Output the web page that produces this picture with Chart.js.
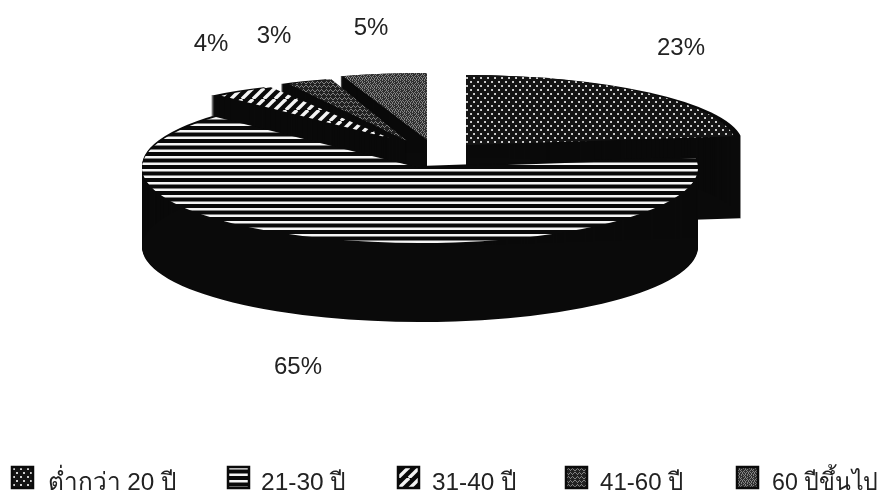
<!DOCTYPE html>
<html>
<head>
<meta charset="utf-8">
<script src="https://cdn.jsdelivr.net/npm/chart.js@4/dist/chart.umd.min.js"></script>
<style>
  html, body { margin: 0; padding: 0; background: #fff; }
  canvas { display: block; filter: blur(0.4px); }
</style>
</head>
<body>
<canvas id="pieChart" width="883" height="494"></canvas>
<script>
const categories = ['ต่ำกว่า 20 ปี', '21-30 ปี', '31-40 ปี', '41-60 ปี', '60 ปีขึ้นไป'];
const shares = [23, 65, 4, 3, 5];

// small bitmaps for the scanned fill patterns (# = dark, . = light, + = half)
const dotTile = ['#######', '#..####', '#..####', '#######', '#######', '####..#', '####..#', '#######'];
const stripeTile = ['.', '.', '+', '#', '#', '#', '+', '.', '.', '#', '#', '#', '#'];
const weaveTile = ['#########', '##.###.##', '#.#.#.#.#', '.###.###.', '#########', '.###.###.', '#.#.#.#.#', '##.###.##'];
const speckleTile = ['#.##.#', '.#.###', '##.#.#', '#.#.##', '.###.#', '#.#.#.', '##.##.', '.#.#.#'];

function bitmapPattern(rows, dark, light, half) {
    const c = document.createElement('canvas');
    c.width = rows[0].length;
    c.height = rows.length;
    const g = c.getContext('2d');
    rows.forEach((row, y) => {
        for (let x = 0; x < row.length; x++) {
            g.fillStyle = row[x] === '#' ? dark : row[x] === '+' ? half : light;
            g.fillRect(x, y, 1, 1);
        }
    });
    return g.createPattern(c, 'repeat');
}

function diagonalPattern() {
    const c = document.createElement('canvas');
    c.width = 11;
    c.height = 11;
    const g = c.getContext('2d');
    g.fillStyle = '#0a0a0a';
    g.fillRect(0, 0, 11, 11);
    g.strokeStyle = '#f4f4f4';
    g.lineWidth = 3.4;
    [-11, 0, 11].forEach(k => {
        g.beginPath();
        g.moveTo(k, 11);
        g.lineTo(k + 11, 0);
        g.stroke();
    });
    return g.createPattern(c, 'repeat');
}

function makeFills() {
    return [
        bitmapPattern(dotTile, '#141414', '#cfcfcf'),
        bitmapPattern(stripeTile, '#0a0a0a', '#f6f6f6', '#808080'),
        diagonalPattern(),
        bitmapPattern(weaveTile, '#222222', '#808080'),
        bitmapPattern(speckleTile, '#303030', '#848484')
    ];
}

// where each slice sits on the page: apex, ellipse radii, black wall below it
const sliceBoxes = [
    { ax: 466, ay: 145, rx: 270, ry: 70, wallRx: 277, wallTop: 0, wallDrop: 82 },
    { ax: 420, ay: 168, rx: 278, ry: 75, wallRx: 278, wallTop: -2, wallDrop: 81 },
    { ax: 389, ay: 138, rx: 245, ry: 58, wallRx: 260, wallTop: 0, wallDrop: 79 },
    { ax: 407, ay: 141, rx: 245, ry: 65, wallRx: 262, wallTop: 0, wallDrop: 79 },
    { ax: 427, ay: 140, rx: 272, ry: 67, wallRx: 280, wallTop: 0, wallDrop: 79 }
];
const drawOrder = [4, 3, 2, 0, 1];
const wallColor = '#0a0a0a';
const mainSlice = 1;
const mainCutSlope = 0.25; // the scan's big slice stops a little lower than a true ellipse

const percentSpots = [[681, 48], [298, 367], [211, 44], [274, 36], [371, 28]];
const legendIconX = [12, 228, 398, 566, 737];
const legendTextX = [48, 261, 432, 600, 772];
const legendTextW = [129, 86, 85, 84, 106];
const legendY = 467;
const iconSize = 21;

const fauxPie = {
    id: 'fauxPie',
    beforeDatasetsDraw(chart) {
        const ctx = chart.ctx;
        const arcs = chart.getDatasetMeta(0).data;
        drawOrder.forEach(i => {
            const arc = arcs[i];
            const box = sliceBoxes[i];
            const sy = box.ry / arc.outerRadius;
            const face = arc.options;

            const place = (rx, dy) => {
                const sx = rx / arc.outerRadius;
                ctx.save();
                ctx.translate(box.ax, box.ay + dy);
                ctx.scale(sx, sy);
                ctx.translate(-arc.x, -arc.y);
                arc.draw(ctx);
                ctx.restore();
            };

            ctx.save();
            if (i === mainSlice) {
                ctx.beginPath();
                ctx.moveTo(box.ax, box.ay);
                ctx.lineTo(0, box.ay - box.ax * mainCutSlope);
                ctx.lineTo(0, chart.height);
                ctx.lineTo(chart.width, chart.height);
                ctx.lineTo(chart.width, 0);
                ctx.lineTo(box.ax, 0);
                ctx.closePath();
                ctx.clip();
            }

            arc.options = Object.assign({}, face, { backgroundColor: wallColor, borderWidth: 0 });
            for (let d = box.wallTop; d <= box.wallTop + box.wallDrop; d++) {
                place(box.wallRx, d);
            }

            // anchor the pattern to the page so it is not squashed with the slice
            const sx = box.rx / arc.outerRadius;
            const ox = box.ax - arc.x * sx;
            const oy = box.ay - arc.y * sy;
            face.backgroundColor.setTransform(new DOMMatrix().scale(1 / sx, 1 / sy).translate(-ox, -oy));
            arc.options = face;
            place(box.rx, 0);
            ctx.restore();
        });
        return false;
    },
    afterDraw(chart) {
        const ctx = chart.ctx;
        const fills = makeFills();
        ctx.save();
        ctx.fillStyle = '#222';

        ctx.font = '24px "Liberation Sans", "Noto Sans", sans-serif';
        ctx.textAlign = 'center';
        ctx.textBaseline = 'middle';
        shares.forEach((v, i) => {
            ctx.fillText(v + '%', percentSpots[i][0], percentSpots[i][1]);
        });

        ctx.font = '24.5px "Liberation Sans", "Noto Sans", sans-serif';
        ctx.textAlign = 'left';
        ctx.textBaseline = 'alphabetic';
        categories.forEach((name, i) => {
            ctx.save();
            ctx.translate(legendIconX[i], legendY);
            ctx.fillStyle = fills[i];
            ctx.fillRect(0, 0, iconSize, iconSize);
            ctx.strokeStyle = '#0a0a0a';
            ctx.lineWidth = 2.5;
            ctx.strokeRect(0, 0, iconSize, iconSize);
            ctx.restore();
            ctx.fillText(name, legendTextX[i], legendY + 23, legendTextW[i]);
        });
        ctx.restore();
    }
};

new Chart(document.getElementById('pieChart').getContext('2d'), {
    type: 'pie',
    data: {
        labels: categories,
        datasets: [{
            data: shares,
            backgroundColor: makeFills(),
            borderWidth: 0
        }]
    },
    options: {
        responsive: false,
        animation: false,
        devicePixelRatio: 1,
        events: [],
        rotation: 0,
        plugins: {
            legend: { display: false },
            title: { display: false },
            tooltip: { enabled: false }
        }
    },
    plugins: [fauxPie]
});
</script>
</body>
</html>
